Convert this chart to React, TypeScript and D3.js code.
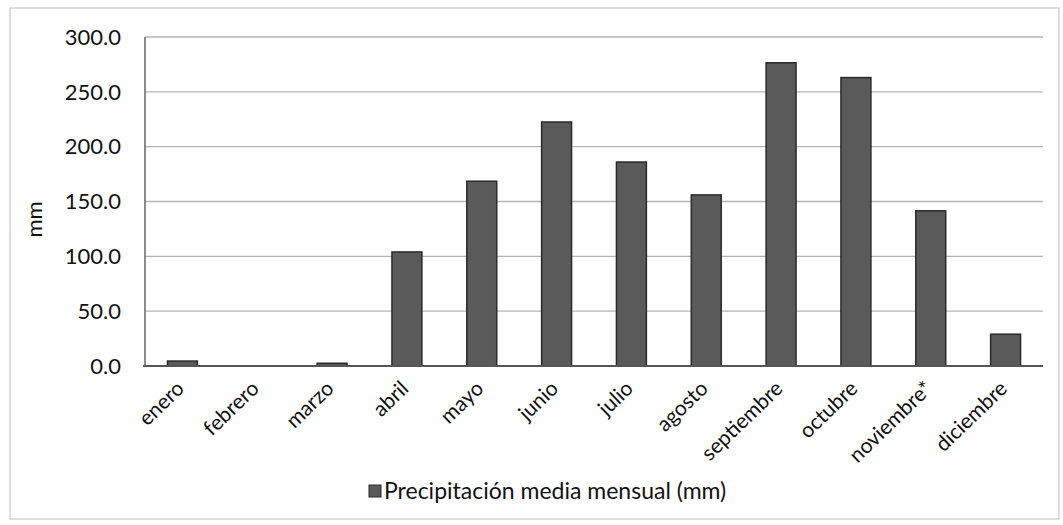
import React from "react";
import * as d3 from "d3";

const months = ["enero","febrero","marzo","abril","mayo","junio","julio","agosto","septiembre","octubre","noviembre*","diciembre"];
const precip = [4.5, 0, 2.5, 104, 168.5, 222.5, 186, 156, 276.5, 263, 141.5, 29];
const yTicks = [0, 50, 100, 150, 200, 250, 300];
const seriesName = "Precipitación media mensual (mm)";
const yTitle = "mm";

const W = 1063, H = 525;
const left = 145, right = 1043, top = 37, bottom = 366;
const FONT = "Lato, 'Open Sans', sans-serif";

export default function App() {
  const x = d3.scaleBand<string>().domain(months).range([left, right]).paddingInner(0.6).paddingOuter(0.3);
  const y = d3.scaleLinear().domain([0, 300]).range([bottom, top]);
  return (
    <svg width={W} height={H} style={{ position: "absolute", left: 0, top: 0, background: "#fff" }} fontFamily={FONT}>
      <rect x={10} y={8} width={1049} height={511} fill="#fff" stroke="#c8c8c8" strokeWidth={1.2} />
      {yTicks.map(t => (
        <g key={t}>
          {t > 0 && <line x1={left} x2={right} y1={y(t)} y2={y(t)} stroke="#b5b5b5" strokeWidth={1.3} />}
          <text x={121} y={y(t)} dy="0.35em" textAnchor="end" fontSize={22} fill="#111">{t.toFixed(1)}</text>
        </g>
      ))}
      {months.map((m, i) => (
        <rect key={m} x={x(m)!} width={x.bandwidth()} y={y(precip[i])} height={Math.max(0, y(0) - y(precip[i]))}
          fill="#5a5a5a" stroke="#2a2a2a" strokeWidth={1.5} />
      ))}
      <line x1={left} x2={left} y1={top} y2={bottom} stroke="#666" strokeWidth={1.5} />
      <line x1={left - 2} x2={right} y1={bottom} y2={bottom} stroke="#555" strokeWidth={1.8} />
      {months.map(m => {
        const cx = x(m)! + x.bandwidth() / 2 + 3;
        const cy = bottom + 24;
        return (
          <text key={m} transform={`translate(${cx},${cy}) rotate(-44)`} textAnchor="end" fontSize={21} fill="#111">{m}</text>
        );
      })}
      <text transform={`translate(42,${(top + bottom) / 2 + 18}) rotate(-90)`} textAnchor="middle" fontSize={22} fill="#111">{yTitle}</text>
      <rect x={369} y={485} width={12} height={12} fill="#5a5a5a" stroke="#2a2a2a" strokeWidth={1} />
      <text x={384} y={499} fontSize={23} fill="#111">{seriesName}</text>
    </svg>
  );
}
